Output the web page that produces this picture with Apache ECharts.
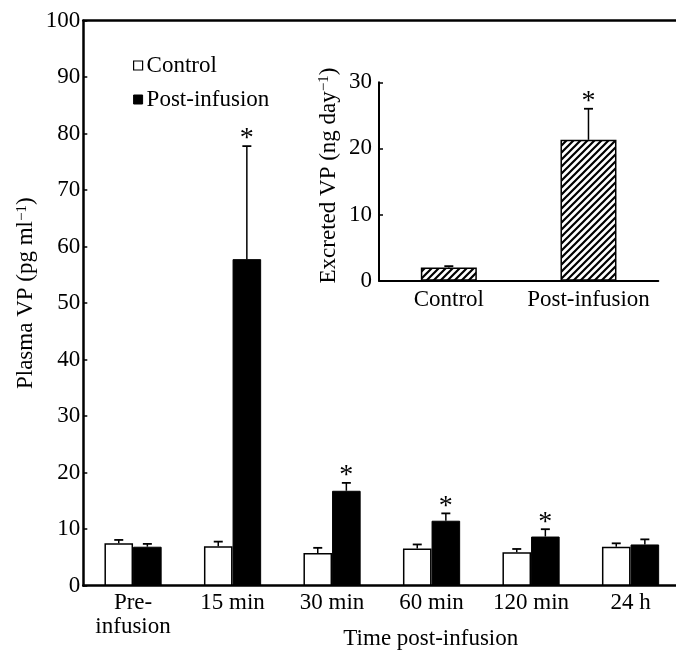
<!DOCTYPE html>
<html><head><meta charset="utf-8">
<script src="https://cdn.jsdelivr.net/npm/echarts@6/dist/echarts.min.js"></script>
<style>html,body{margin:0;padding:0;background:#fff}#c{width:676px;height:655px}</style>
</head><body><div id="c"></div>
<script>
// ---- data ----
const categories = ['Pre-\ninfusion', '15 min', '30 min', '60 min', '120 min', '24 h'];
const controlMean = [7.5, 7.0, 5.8, 6.6, 5.9, 6.9];
const controlSem = [0.6, 0.8, 0.9, 0.7, 0.6, 0.6];
const postMean = [6.9, 57.8, 16.8, 11.5, 8.7, 7.3];
const postSem = [0.5, 20.0, 1.4, 1.3, 1.3, 0.9];
const postSig = [0, 1, 1, 1, 1, 0];
const yTicksMain = [0, 100, 10];
const insetCategories = ['Control', 'Post-infusion'];
const insetMean = [2.0, 21.3];
const insetSem = [0.2, 4.7];
const insetSig = [0, 1];
const yTicksInset = [0, 30, 10];

// ---- style ----
const FONT = 'Liberation Serif';
const FS = 23;
const BAR_W = 28.6;
const INSET_BAR_W = 56;

function hatch() {
  const s = 7, c = document.createElement('canvas');
  c.width = s; c.height = s;
  const g = c.getContext('2d');
  g.fillStyle = '#fff'; g.fillRect(0, 0, s, s);
  g.strokeStyle = '#000'; g.lineWidth = 2.2;
  g.beginPath();
  g.moveTo(0, s); g.lineTo(s, 0);
  g.moveTo(-1, 1); g.lineTo(1, -1);
  g.moveTo(s - 1, s + 1); g.lineTo(s + 1, s - 1);
  g.stroke();
  return c;
}

function errRender(offset) {
  return function (params, api) {
    const x = api.value(0), m = api.value(1), u = api.value(2), s = api.value(3);
    const p0 = api.coord([x, m]);
    const p1 = api.coord([x, u]);
    const cx = p0[0] + offset;
    const children = [
      { type: 'line', shape: { x1: cx, y1: p0[1], x2: cx, y2: p1[1] }, style: { stroke: '#000', lineWidth: 1.5 } },
      { type: 'line', shape: { x1: cx - 4.5, y1: p1[1], x2: cx + 4.5, y2: p1[1] }, style: { stroke: '#000', lineWidth: 1.8 } }
    ];
    if (s) {
      children.push({ type: 'text', x: cx, y: p1[1] - 7,
        style: { text: '*', font: '28px "' + FONT + '"', fill: '#000', align: 'center', verticalAlign: 'middle' } });
    }
    return { type: 'group', children };
  };
}

const txt = { fontFamily: FONT, fontSize: FS, color: '#000' };
const supStyle = { fontFamily: FONT, fontSize: 15, color: '#000', verticalAlign: 'top', lineHeight: 15 };

const chart = echarts.init(document.getElementById('c'), null, { renderer: 'canvas' });
chart.setOption({
  animation: false,
  backgroundColor: '#fff',
  textStyle: { fontFamily: FONT, color: '#000' },
  legend: {
    orient: 'vertical', left: 128, top: 49, itemWidth: 9, itemHeight: 9, itemGap: 11,
    icon: 'rect', textStyle: Object.assign({}, txt, { padding: [0, 0, 0, -1] }),
    data: [
      { name: 'Control', itemStyle: { color: '#fff', borderColor: '#000', borderWidth: 1.2 } },
      { name: 'Post-infusion', itemStyle: { color: '#000', borderColor: '#000', borderWidth: 1 } }
    ]
  },
  grid: [
    { left: 83.3, top: 20.7, width: 597, height: 565, outerBoundsMode: 'none', containLabel: false },
    { left: 379, top: 82.3, width: 279.3, height: 198.4, outerBoundsMode: 'none', containLabel: false }
  ],
  xAxis: [
    { gridIndex: 0, type: 'category', data: categories,
      axisLine: { lineStyle: { color: '#000', width: 2.5 } },
      axisTick: { inside: true, length: 4, lineStyle: { color: '#000', width: 1.5 } },
      axisLabel: Object.assign({}, txt, { margin: 5, lineHeight: 24, interval: 0, hideOverlap: false }),
      name: 'Time post-infusion', nameLocation: 'middle', nameGap: 42, nameMoveOverlap: false,
      nameTextStyle: Object.assign({}, txt, { padding: [0, 0, 0, 98] }) },
    { gridIndex: 0, type: 'category', data: categories, position: 'top',
      axisLine: { lineStyle: { color: '#000', width: 2.5 } },
      axisTick: { show: false }, axisLabel: { show: false } },
    { gridIndex: 1, type: 'category', data: insetCategories,
      axisLine: { lineStyle: { color: '#000', width: 2 } },
      axisTick: { inside: true, length: 5, lineStyle: { color: '#000', width: 1.5 } },
      axisLabel: Object.assign({}, txt, { margin: 8, interval: 0, hideOverlap: false }) }
  ],
  yAxis: [
    { gridIndex: 0, type: 'value', min: yTicksMain[0], max: yTicksMain[1], interval: yTicksMain[2],
      axisLine: { show: true, lineStyle: { color: '#000', width: 2.5 } },
      axisTick: { show: true, inside: true, length: 4, lineStyle: { color: '#000', width: 1.5 } },
      splitLine: { show: false },
      axisLabel: Object.assign({}, txt, { margin: 3 }),
      name: 'Plasma VP (pg ml{s|−1})', nameLocation: 'middle', nameGap: 46, nameRotate: 90, nameMoveOverlap: false,
      nameTextStyle: Object.assign({}, txt, { padding: [0, 0, 0, 20], rich: { s: supStyle } }) },
    { gridIndex: 1, type: 'value', min: yTicksInset[0], max: yTicksInset[1], interval: yTicksInset[2],
      axisLine: { show: true, lineStyle: { color: '#000', width: 2 } },
      axisTick: { show: true, inside: true, length: 4, lineStyle: { color: '#000', width: 1.5 } },
      splitLine: { show: false },
      axisLabel: Object.assign({}, txt, { margin: 7 }),
      name: 'Excreted VP (ng day{s|−1})', nameLocation: 'middle', nameGap: 39, nameRotate: 90, nameMoveOverlap: false,
      nameTextStyle: Object.assign({}, txt, { padding: [0, 0, 0, 12], rich: { s: supStyle } }) }
  ],
  series: [
    { name: 'Control', type: 'bar', xAxisIndex: 0, yAxisIndex: 0, data: controlMean,
      barWidth: BAR_W, barGap: '0%',
      itemStyle: { color: '#fff', borderColor: '#000', borderWidth: 1.5 } },
    { name: 'Post-infusion', type: 'bar', xAxisIndex: 0, yAxisIndex: 0, data: postMean,
      barWidth: BAR_W, barGap: '0%',
      itemStyle: { color: '#000', borderColor: '#000', borderWidth: 1 } },
    { name: 'errC', type: 'custom', xAxisIndex: 0, yAxisIndex: 0, z: 5,
      renderItem: errRender(-BAR_W / 2), encode: { x: 0, y: 1 },
      data: controlMean.map((m, i) => [i, m, m + controlSem[i], 0]) },
    { name: 'errP', type: 'custom', xAxisIndex: 0, yAxisIndex: 0, z: 5,
      renderItem: errRender(BAR_W / 2), encode: { x: 0, y: 1 },
      data: postMean.map((m, i) => [i, m, m + postSem[i], postSig[i]]) },
    { name: 'Excreted', type: 'bar', xAxisIndex: 2, yAxisIndex: 1, data: insetMean,
      barWidth: INSET_BAR_W,
      itemStyle: { color: { image: hatch(), repeat: 'repeat' }, borderColor: '#000', borderWidth: 1.5 } },
    { name: 'errI', type: 'custom', xAxisIndex: 2, yAxisIndex: 1, z: 5,
      renderItem: errRender(0), encode: { x: 0, y: 1 },
      data: insetMean.map((m, i) => [i, m, m + insetSem[i], insetSig[i]]) }
  ]
});
</script></body></html>
